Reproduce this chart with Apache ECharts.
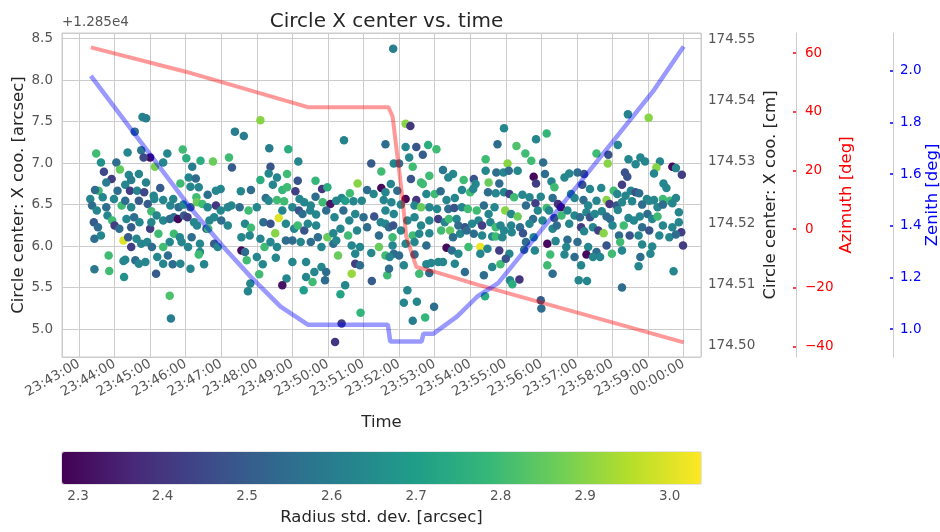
<!DOCTYPE html>
<html><head><meta charset="utf-8">
<script src="https://cdn.jsdelivr.net/npm/echarts@6/dist/echarts.min.js"></script>
<style>html,body{margin:0;padding:0;background:#fff}#c{width:940px;height:532px}</style>
</head><body><div id="c"></div>
<script>
// Time is given in seconds after 23:43:00
const T0_SECONDS = 23 * 3600 + 43 * 60;
const OFFSET_TEXT = '+1.285e4';
const titleText = 'Circle X center vs. time';

// Scatter points: [seconds after 23:43:00, circle X center (arcsec, minus 12850), radius std. dev. (arcsec)]
const scatterPoints = [
[107,7.556,2.62],[113,7.54,2.6],[94,7.38,2.55],[29,7.116,2.8],[82,7.128,2.63],[105,7.156,2.58],[120,7.068,2.3],[109,7.068,2.45],[149,7.116,2.63],[175,7.164,2.8],[37,7.008,2.66],[63,7.008,2.55],[69,6.924,2.85],[128,6.956,2.88],[142,7.008,2.63],[181,7.06,2.75],[191,6.956,2.6],[205,7.028,2.75],[226,7.02,2.86],[253,7.068,2.8],[258,6.948,2.5],
[42,6.896,2.45],[55,6.808,2.42],[84,6.856,2.63],[101,6.868,2.63],[88,6.796,2.6],[113,6.768,2.62],[46,6.768,2.6],[78,6.74,2.63],[33,6.668,2.8],[27,6.676,2.55],[65,6.668,2.55],[86,6.668,2.42],[98,6.668,2.63],[110,6.648,2.45],[137,6.70,2.5],[126,6.608,2.63],[171,6.756,2.8],[185,6.828,2.63],[197,6.816,2.55],[188,6.716,2.63],[202,6.708,2.63],[198,6.588,2.8],[217,6.62,2.55],[231,6.668,2.63],[239,6.688,2.63],
[19,6.568,2.63],[22,6.488,2.55],[30,6.428,2.63],[40,6.588,2.63],[46,6.468,2.55],[59,6.568,2.63],[72,6.488,2.8],[78,6.548,2.55],[88,6.468,2.63],[101,6.548,2.5],[116,6.508,2.5],[122,6.42,2.8],[127,6.568,2.63],[142,6.556,2.63],[159,6.568,2.63],[154,6.488,2.63],[168,6.468,2.55],[176,6.5,2.63],[188,6.468,2.5],[199,6.528,2.86],[208,6.508,2.8],[217,6.468,2.63],[231,6.488,2.4],[239,6.428,2.63],[251,6.468,2.63],[257,6.488,2.63],
[25,6.288,2.5],[32,6.228,2.55],[48,6.368,2.63],[56,6.308,2.8],[60,6.248,2.42],[68,6.208,2.55],[80,6.328,2.63],[88,6.228,2.5],[93,6.348,2.55],[102,6.288,2.63],[120,6.208,2.42],[122,6.288,2.63],[131,6.368,2.63],[142,6.308,2.63],[153,6.328,2.55],[160,6.348,2.55],[167,6.328,2.3],[177,6.368,2.5],[183,6.348,2.42],[194,6.288,2.63],[199,6.248,2.63],[215,6.208,2.5],[220,6.308,2.63],[228,6.348,2.63],[240,6.308,2.55],[251,6.248,2.63],
[26,6.088,2.55],[37,6.128,2.63],[75,6.068,3.0],[83,6.108,2.5],[88,5.988,2.42],[97,6.088,2.63],[105,6.028,2.63],[115,6.048,2.63],[123,5.988,2.55],[134,6.148,2.8],[142,5.988,2.8],[153,6.048,2.63],[160,6.148,2.8],[170,6.108,2.63],[173,6.048,2.63],[184,5.988,2.63],[190,6.108,2.55],[204,6.028,2.63],[218,6.208,2.8],[228,6.028,2.5],[234,5.988,2.63],[204,5.928,2.63],[202,5.9,2.8],
[50,5.888,2.8],[78,5.836,2.63],[75,5.82,2.63],[95,5.828,2.55],[101,5.788,2.63],[112,5.808,2.63],[132,5.868,2.63],[142,5.788,2.63],[150,5.888,2.55],[158,5.78,2.55],[171,5.788,2.63],[188,5.728,2.63],[211,5.78,2.63],[26,5.72,2.58],[51,5.70,2.8],[76,5.628,2.66],[130,5.668,2.5],[153,5.40,2.82],[155,5.128,2.6],
[306,7.516,2.9],[263,7.38,2.6],[278,7.328,2.6],[321,7.18,2.6],[353,7.168,2.75],[370,7.02,2.63],[323,6.956,2.48],[447,7.276,2.62],[517,7.228,2.55],[493,6.996,2.5],[510,6.9,2.8],[320,6.876,2.63],[351,6.868,2.8],[334,6.828,2.63],[306,6.796,2.75],[369,6.788,2.48],[399,6.788,2.78],[410,6.688,2.4],[419,6.708,2.75],[327,6.74,2.63],[343,6.676,2.78],[351,6.708,2.8],[365,6.66,2.42],[399,6.596,2.55],[273,6.66,2.63],[290,6.676,2.55],
[315,6.58,2.55],[320,6.548,2.63],[334,6.556,2.8],[346,6.54,2.8],[372,6.568,2.63],[380,6.528,2.63],[391,6.488,2.63],[411,6.528,2.8],[424,6.508,2.32],[434,6.548,2.63],[443,6.58,2.63],[449,6.548,2.7],[457,6.636,2.8],[463,6.54,2.63],[470,6.756,2.9],[477,6.548,2.63],[486,6.676,2.55],[497,6.628,2.63],[510,6.70,2.3],[514,6.556,2.63],[517,6.648,2.63],
[271,6.468,2.55],[286,6.428,2.8],[300,6.468,2.63],[337,6.34,3.0],[343,6.428,2.63],[360,6.468,2.63],[371,6.428,2.48],[377,6.388,2.55],[390,6.428,2.63],[400,6.38,2.63],[417,6.428,2.55],[431,6.348,2.63],[446,6.428,2.55],[456,6.308,2.63],[466,6.388,2.63],[480,6.348,2.55],[498,6.356,2.48],[509,6.288,2.63],[517,6.428,2.63],
[280,6.268,2.63],[290,6.22,2.8],[311,6.288,2.55],[323,6.268,2.48],[331,6.156,2.9],[349,6.268,2.63],[363,6.208,2.63],[369,6.248,2.8],[380,6.188,2.48],[386,6.268,2.63],[400,6.248,2.63],[403,6.108,2.55],[419,6.108,2.86],[429,6.156,2.63],[441,6.208,2.63],[454,6.128,2.8],[469,6.188,2.63],[486,6.228,2.55],[506,6.128,2.55],[517,6.268,2.63],
[274,6.108,2.63],[288,6.128,2.63],[306,6.088,2.63],[313,5.988,2.8],[323,6.048,2.63],[334,5.988,2.63],[349,6.068,2.55],[360,6.068,2.55],[374,6.048,2.63],[391,6.048,2.55],[409,5.988,2.63],[429,6.028,2.55],[434,6.068,2.63],[460,6.008,2.63],[466,5.908,2.63],[474,5.988,2.63],[493,5.916,2.63],[506,5.988,2.86],[517,5.888,2.8],
[274,5.948,2.3],[283,5.828,2.8],[280,5.928,2.55],[300,5.868,2.63],[310,5.78,2.63],[332,5.86,2.63],[360,5.808,2.63],[383,5.808,2.63],[397,5.688,2.63],[409,5.748,2.63],[417,5.688,2.55],[437,5.888,2.86],[460,5.668,2.92],[466,5.788,2.42],[474,5.768,2.55],[520,5.648,2.8],[304,5.66,2.8],[289,5.548,2.63],[285,5.456,2.63],[350,5.608,2.63],[343,5.528,2.32],[383,5.628,2.63],[394,5.568,2.8],[379,5.468,2.7],[415,5.588,2.55],[449,5.528,2.63],[441,5.42,2.72],[494,5.58,2.5],[475,5.196,2.78],[443,5.068,2.42],[432,4.843,2.4],
[530,8.38,2.6],[551,7.476,2.9],[559,7.448,2.4],[717,7.42,2.63],[771,7.288,2.63],[706,7.228,2.55],[738,7.208,2.82],[753,7.116,2.8],[551,7.196,2.63],[569,7.196,2.48],[589,7.22,2.75],[603,7.168,2.8],[557,7.068,2.63],[580,7.10,2.5],[686,7.048,2.8],[723,6.996,2.9],[763,7.028,2.8],[531,6.996,2.63],[540,6.996,2.55],[563,6.956,2.8],[591,6.848,2.8],[560,6.808,2.48],[577,6.768,2.8],[614,6.916,2.58],[631,6.868,2.63],[649,6.796,2.8],[623,6.828,2.63],[666,6.808,2.48],[686,6.908,2.63],[704,6.888,2.55],[716,6.888,2.63],[725,6.908,2.55],[740,6.908,2.63],[767,6.836,2.3],[771,6.756,2.42],
[526,6.748,2.63],[537,6.668,2.55],[551,6.568,2.3],[569,6.556,2.4],[580,6.748,2.8],[586,6.628,2.63],[600,6.628,2.8],[610,6.66,2.55],[620,6.556,2.63],[634,6.58,2.63],[646,6.676,2.63],[660,6.648,2.8],[669,6.748,2.63],[665,6.688,2.63],[691,6.768,2.86],[709,6.756,2.55],[690,6.648,2.55],[703,6.636,2.63],[717,6.648,2.63],[726,6.628,2.42],[734,6.588,2.8],[748,6.62,2.63],[760,6.588,2.63],[770,6.516,2.42],
[527,6.528,2.63],[543,6.50,2.63],[566,6.488,2.63],[577,6.468,2.86],[591,6.468,2.63],[604,6.448,2.63],[623,6.448,2.55],[633,6.46,2.48],[646,6.468,2.63],[656,6.448,2.8],[671,6.428,2.8],[683,6.488,2.55],[691,6.388,2.63],[701,6.468,2.63],[719,6.428,2.9],[729,6.388,2.63],[740,6.356,2.86],[754,6.488,2.55],[766,6.328,2.55],[774,6.428,2.63],
[531,6.388,2.63],[554,6.308,2.63],[566,6.348,2.63],[577,6.248,2.63],[591,6.308,2.63],[606,6.328,2.42],[617,6.288,2.63],[624,6.328,2.8],[637,6.328,2.63],[640,6.248,2.55],[651,6.228,2.48],[663,6.268,2.63],[674,6.308,2.63],[680,6.248,2.42],[694,6.288,2.63],[703,6.228,2.8],[711,6.248,2.63],[717,6.188,2.63],[729,6.248,2.63],[744,6.228,2.55],[760,6.268,2.63],
[523,6.228,2.55],[530,6.248,2.48],[543,6.188,2.63],[563,6.128,2.8],[574,6.148,2.63],[591,6.156,2.63],[611,6.188,2.8],[626,6.188,2.86],[631,6.108,2.55],[643,6.148,2.63],[654,6.188,2.55],[666,6.148,2.55],[680,6.128,2.63],[697,6.116,2.63],[703,6.116,2.8],[714,6.108,2.63],[730,6.168,2.63],[749,6.156,2.48],[754,6.048,2.55],[767,6.108,2.63],
[529,6.108,2.8],[529,6.008,2.63],[551,6.028,2.63],[566,6.048,2.63],[586,6.008,2.55],[620,5.98,2.3],[629,5.948,2.55],[640,5.908,2.63],[657,5.988,2.8],[677,5.988,3.02],[677,5.908,2.63],[689,5.968,2.63],[709,5.948,2.42],[726,5.908,2.63],[751,5.956,2.55],[769,5.948,2.63],
[531,5.908,2.55],[540,5.888,2.55],[548,5.768,2.63],[524,5.868,2.63],[523,5.728,2.55],[566,5.9,2.55],[586,5.78,2.63],[594,5.796,2.63],[606,5.808,2.63],[614,5.808,2.63],[634,5.788,2.63],[574,5.668,2.8],[591,5.676,2.55],[651,5.688,2.55],[697,5.748,2.63],[683,5.648,2.55],[711,5.78,2.8],[720,5.848,2.48],[727,5.588,2.63],[731,5.54,2.75],[743,5.596,2.4],
[554,5.468,2.63],[548,5.316,2.63],[570,5.328,2.63],[599,5.268,2.55],[584,5.14,2.78],[563,5.10,2.6],[780,5.248,2.55],[685,5.396,2.75],
[926,7.588,2.62],[961,7.548,2.9],[789,7.356,2.78],[909,7.22,2.63],[873,7.116,2.8],[893,7.10,2.48],[892,6.996,2.9],[783,7.008,2.55],[927,7.048,2.63],[947,7.068,2.63],[955,7.02,2.63],[939,6.988,2.63],[980,7.02,2.63],[974,6.948,2.9],[970,6.876,2.63],[1001,6.956,2.3],[1007,6.94,2.63],[1017,6.86,2.42],
[786,6.868,2.55],[797,6.78,2.63],[802,6.708,2.8],[819,6.828,2.63],[827,6.876,2.63],[841,6.888,2.55],[852,6.868,2.48],[921,6.888,2.48],[925,6.836,2.48],[916,6.74,2.42],[931,6.668,2.63],[939,6.648,2.48],[986,6.756,2.63],[991,6.70,2.63],[849,6.74,2.48],[862,6.688,2.63],[881,6.70,2.63],[902,6.668,2.8],[908,6.628,2.63],[922,6.608,2.63],[945,6.636,2.55],[958,6.568,2.63],[970,6.556,2.63],[985,6.568,2.8],[997,6.548,2.8],[1007,6.58,2.63],
[779,6.596,2.63],[799,6.58,2.55],[808,6.508,2.4],[813,6.468,2.3],[830,6.628,2.63],[836,6.58,2.63],[851,6.556,2.55],[859,6.488,2.63],[873,6.548,2.63],[890,6.556,2.9],[895,6.508,2.4],[907,6.488,2.48],[916,6.528,2.63],[933,6.54,2.63],[950,6.50,2.55],[962,6.548,2.63],[976,6.468,2.63],[985,6.50,2.55],[1001,6.516,2.63],
[789,6.46,2.8],[793,6.428,2.63],[802,6.34,2.48],[814,6.368,2.8],[824,6.428,2.63],[836,6.368,2.63],[845,6.348,2.55],[856,6.408,2.63],[862,6.348,2.48],[870,6.388,2.63],[882,6.42,2.63],[890,6.356,2.55],[896,6.328,2.55],[909,6.436,2.63],[919,6.248,2.8],[927,6.34,2.63],[936,6.308,2.63],[946,6.356,2.63],[950,6.228,2.55],[959,6.388,2.55],[967,6.328,2.63],[976,6.356,2.8],[985,6.248,2.63],[1001,6.228,2.63],[1012,6.408,2.63],[1012,6.288,2.63],[1016,6.168,2.42],
[782,6.308,2.63],[799,6.208,2.63],[806,6.248,2.55],[827,6.268,2.63],[847,6.228,2.42],[852,6.18,2.63],[867,6.228,2.63],[876,6.188,2.42],[885,6.156,2.9],[900,6.248,2.63],[911,6.128,2.55],[929,6.128,2.48],[944,6.128,2.63],[962,6.188,2.48],[979,6.128,2.63],[996,6.108,2.63],[1007,6.14,2.55],[1019,6.008,2.42],
[790,6.028,2.3],[804,6.06,2.63],[824,6.076,2.55],[841,6.048,2.55],[822,5.988,2.63],[859,5.988,2.63],[873,5.928,2.55],[890,6.008,2.48],[899,5.908,2.8],[879,5.868,2.63],[913,6.048,2.8],[916,5.948,2.63],[856,5.90,2.3],[867,5.868,2.63],[795,5.90,2.8],[819,5.90,2.63],[836,5.868,2.55],[950,6.02,2.63],[967,5.996,2.63],[947,5.868,2.55],[964,5.908,2.63],[944,5.756,2.63],
[790,5.768,2.8],[799,5.668,2.55],[847,5.768,2.63],[843,5.588,2.63],[857,5.58,2.63],[916,5.50,2.55],[1003,5.696,2.63],[779,5.348,2.5]
];

// Azimuth (deg) vs time
const azimuthTime = [20, 180, 386, 522, 529, 546, 552, 569, 598, 672, 1020];
const azimuthDeg  = [62.0, 53.7, 41.6, 41.6, 38.4, 10.0, -2.5, -12.9, -14.4, -18.9, -38.6];

// Zenith (deg) vs time
const zenithTime = [20, 110, 186, 243, 289, 340, 386, 521, 525, 578, 581, 598, 638, 672, 707, 838, 970, 1020];
const zenithDeg  = [1.981, 1.707, 1.475, 1.320, 1.204, 1.087, 1.017, 1.017, 0.952, 0.952, 0.982, 0.982, 1.049, 1.126, 1.178, 1.547, 1.926, 2.095];

// Axis ranges
const xRange = [-28.7, 1049.3];
const yRange = [4.663, 8.569];
const cmRange = [174.4982, 174.551];
const azRange = [-43.6, 66.9];
const zenRange = [0.8916, 2.147];
const stdRange = [2.281, 3.037];

const viridis = ['#440154','#482878','#3e4989','#31688e','#26828e','#1f9e89','#35b779','#6ece58','#b5de2b','#fde725'];

function fmtTime(v) {
  let s = Math.round(v + T0_SECONDS);
  s = ((s % 86400) + 86400) % 86400;
  const h = Math.floor(s / 3600), m = Math.floor((s % 3600) / 60), sec = s % 60;
  const p = n => String(n).padStart(2, '0');
  return p(h) + ':' + p(m) + ':' + p(sec);
}
const minus = v => (v < 0 ? '\u2212' + String(Math.abs(v)) : String(v));

const FONT = 'DejaVu Sans';
const TICK = '#555555';
const INK = '#262626';
const GRIDC = '#cccccc';

const chart = echarts.init(document.getElementById('c'), null, {renderer: 'canvas'});
chart.setOption({
  animation: false,
  textStyle: {fontFamily: FONT},
  title: {text: titleText, left: 381.5, textAlign: 'center', top: 7,
    textStyle: {fontFamily: FONT, fontSize: 20, fontWeight: 'normal', color: INK}},
  graphic: [{type: 'text', left: 62, top: 15, style: {text: OFFSET_TEXT, fontFamily: FONT, fontSize: 13.5, fill: TICK}}],
  grid: [
    {left: 62, top: 33, width: 639, height: 324, show: true, borderColor: GRIDC, borderWidth: 1, containLabel: false, outerBoundsMode: 'none'},
    {left: 62, top: 452, width: 639, height: 32, show: true, borderColor: GRIDC, borderWidth: 1, containLabel: false, outerBoundsMode: 'none'}
  ],
  visualMap: [{
    type: 'continuous', seriesIndex: 0, dimension: 2, min: stdRange[0], max: stdRange[1],
    orient: 'horizontal', left: 62, top: 452, itemWidth: 32, itemHeight: 639, padding: 0,
    calculable: false, text: null, showLabel: false, hoverLink: false,
    inRange: {color: viridis}, z: 1
  }],
  xAxis: [
    {type: 'value', gridIndex: 0, min: xRange[0], max: xRange[1], minInterval: 60, maxInterval: 60,
     axisLine: {show: false}, axisTick: {show: false},
     splitLine: {show: true, lineStyle: {color: GRIDC, width: 1}},
     axisLabel: {rotate: 30, margin: 6, color: TICK, fontSize: 13.5, fontFamily: FONT, formatter: fmtTime, showMinLabel: false, showMaxLabel: false},
     name: 'Time', nameLocation: 'middle', nameGap: 57, nameMoveOverlap: false, nameTextStyle: {fontSize: 16.5, color: INK, fontFamily: FONT}},
    {type: 'value', gridIndex: 1, min: stdRange[0], max: stdRange[1], minInterval: 0.1, maxInterval: 0.1,
     axisLine: {show: false}, axisTick: {show: false}, splitLine: {show: false},
     axisLabel: {margin: 5, color: TICK, fontSize: 13.5, fontFamily: FONT, formatter: v => v.toFixed(1), showMinLabel: false, showMaxLabel: false},
     name: 'Radius std. dev. [arcsec]', nameLocation: 'middle', nameGap: 25, nameMoveOverlap: false, nameTextStyle: {fontSize: 16.5, color: INK, fontFamily: FONT}}
  ],
  yAxis: [
    {type: 'value', gridIndex: 0, position: 'left', min: yRange[0], max: yRange[1], minInterval: 0.5, maxInterval: 0.5,
     axisLine: {show: false}, axisTick: {show: false},
     splitLine: {show: true, lineStyle: {color: GRIDC, width: 1}},
     axisLabel: {margin: 9, color: TICK, fontSize: 13.5, fontFamily: FONT, formatter: v => v.toFixed(1), showMinLabel: false, showMaxLabel: false},
     name: 'Circle center: X coo. [arcsec]', nameLocation: 'middle', nameGap: 35, nameRotate: 90, nameMoveOverlap: false,
     nameTextStyle: {fontSize: 16.5, color: INK, fontFamily: FONT}},
    {type: 'value', gridIndex: 0, position: 'right', offset: 0, min: cmRange[0], max: cmRange[1], minInterval: 0.01, maxInterval: 0.01,
     axisLine: {show: false}, axisTick: {show: false}, splitLine: {show: false},
     axisLabel: {margin: 7, color: TICK, fontSize: 13.5, fontFamily: FONT, formatter: v => v.toFixed(2), showMinLabel: false, showMaxLabel: false},
     name: 'Circle center: X coo. [cm]', nameLocation: 'middle', nameGap: 61, nameRotate: 90, nameMoveOverlap: false,
     nameTextStyle: {fontSize: 16.5, color: INK, fontFamily: FONT}},
    {type: 'value', gridIndex: 0, position: 'right', offset: 95, min: azRange[0], max: azRange[1], minInterval: 20, maxInterval: 20,
     axisLine: {show: true, lineStyle: {color: GRIDC, width: 1}},
     axisTick: {show: true, inside: true, length: 3, lineStyle: {color: '#ff0000', width: 1.5}},
     splitLine: {show: false},
     axisLabel: {margin: 9, color: '#ff0000', fontSize: 13.5, fontFamily: FONT, formatter: minus, showMinLabel: false, showMaxLabel: false},
     name: 'Azimuth [deg]', nameLocation: 'middle', nameGap: 42, nameRotate: 90, nameMoveOverlap: false,
     nameTextStyle: {fontSize: 16.5, color: '#ff0000', fontFamily: FONT}},
    {type: 'value', gridIndex: 0, position: 'right', offset: 192, min: zenRange[0], max: zenRange[1], minInterval: 0.2, maxInterval: 0.2,
     axisLine: {show: true, lineStyle: {color: GRIDC, width: 1}},
     axisTick: {show: true, inside: true, length: 3, lineStyle: {color: '#0000ff', width: 1.5}},
     splitLine: {show: false},
     axisLabel: {margin: 7, color: '#0000ff', fontSize: 13.5, fontFamily: FONT, formatter: v => v.toFixed(1), showMinLabel: false, showMaxLabel: false},
     name: 'Zenith [deg]', nameLocation: 'middle', nameGap: 31, nameRotate: 90, nameMoveOverlap: false,
     nameTextStyle: {fontSize: 16.5, color: '#0000ff', fontFamily: FONT}},
    {type: 'value', gridIndex: 1, min: 0, max: 1, show: false}
  ],
  series: [
    {type: 'scatter', xAxisIndex: 0, yAxisIndex: 0, data: scatterPoints, symbolSize: 8.5,
     itemStyle: {opacity: 1}, z: 2, silent: true},
    {type: 'line', xAxisIndex: 0, yAxisIndex: 2, data: azimuthTime.map((t, i) => [t, azimuthDeg[i]]),
     showSymbol: false, symbol: 'none', lineStyle: {color: 'rgba(255,0,0,0.4)', width: 4}, z: 3, silent: true},
    {type: 'line', xAxisIndex: 0, yAxisIndex: 3, data: zenithTime.map((t, i) => [t, zenithDeg[i]]),
     showSymbol: false, symbol: 'none', lineStyle: {color: 'rgba(0,0,255,0.4)', width: 4.5}, z: 3, silent: true}
  ]
});
</script></body></html>
